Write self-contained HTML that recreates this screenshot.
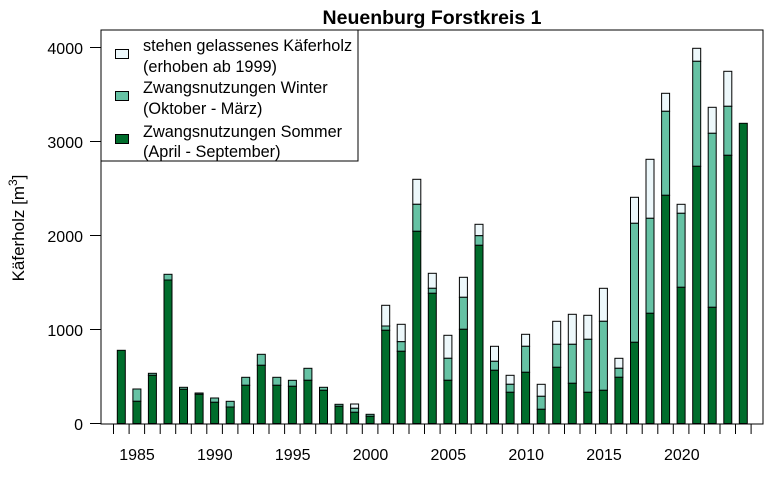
<!DOCTYPE html><html><head><style>body{margin:0;background:#fff}svg text{font-family:"Liberation Sans",Arial,sans-serif}.w{fill:#edf8fb}.l{fill:#66c2a4}.d{fill:#006d2c}</style></head><body>
<svg width="768" height="484" xmlns="http://www.w3.org/2000/svg">
<rect width="768" height="484" fill="#fff"/>
<text x="432" y="24" font-size="19.5" font-weight="bold" text-anchor="middle">Neuenburg Forstkreis 1</text>
<g stroke="#000" stroke-width="1">
<rect class="d" x="117.3" y="350.3" width="8" height="73.2"/>
<rect class="l" x="132.9" y="389" width="8" height="12.3"/><rect class="d" x="132.9" y="401.3" width="8" height="22.2"/>
<rect class="l" x="148.4" y="373.3" width="8" height="2"/><rect class="d" x="148.4" y="375.3" width="8" height="48.2"/>
<rect class="l" x="164.0" y="274.3" width="8" height="5.7"/><rect class="d" x="164.0" y="280" width="8" height="143.5"/>
<rect class="l" x="179.5" y="387.3" width="8" height="2"/><rect class="d" x="179.5" y="389.3" width="8" height="34.2"/>
<rect class="l" x="195.1" y="393" width="8" height="1.3"/><rect class="d" x="195.1" y="394.3" width="8" height="29.2"/>
<rect class="l" x="210.6" y="398" width="8" height="4.3"/><rect class="d" x="210.6" y="402.3" width="8" height="21.2"/>
<rect class="l" x="226.2" y="401.3" width="8" height="5.7"/><rect class="d" x="226.2" y="407" width="8" height="16.5"/>
<rect class="l" x="241.7" y="377.3" width="8" height="8"/><rect class="d" x="241.7" y="385.3" width="8" height="38.2"/>
<rect class="l" x="257.3" y="354.3" width="8" height="11"/><rect class="d" x="257.3" y="365.3" width="8" height="58.2"/>
<rect class="l" x="272.8" y="377.3" width="8" height="8"/><rect class="d" x="272.8" y="385.3" width="8" height="38.2"/>
<rect class="l" x="288.4" y="380.3" width="8" height="6"/><rect class="d" x="288.4" y="386.3" width="8" height="37.2"/>
<rect class="l" x="303.9" y="368.3" width="8" height="12"/><rect class="d" x="303.9" y="380.3" width="8" height="43.2"/>
<rect class="l" x="319.5" y="387.3" width="8" height="3"/><rect class="d" x="319.5" y="390.3" width="8" height="33.2"/>
<rect class="l" x="335.0" y="404.3" width="8" height="2"/><rect class="d" x="335.0" y="406.3" width="8" height="17.2"/>
<rect class="w" x="350.6" y="404" width="8" height="4.3"/><rect class="l" x="350.6" y="408.3" width="8" height="4"/><rect class="d" x="350.6" y="412.3" width="8" height="11.2"/>
<rect class="l" x="366.1" y="414.3" width="8" height="2"/><rect class="d" x="366.1" y="416.3" width="8" height="7.2"/>
<rect class="w" x="381.7" y="305.3" width="8" height="20.7"/><rect class="l" x="381.7" y="326" width="8" height="4.3"/><rect class="d" x="381.7" y="330.3" width="8" height="93.2"/>
<rect class="w" x="397.2" y="324.3" width="8" height="17.4"/><rect class="l" x="397.2" y="341.7" width="8" height="9.6"/><rect class="d" x="397.2" y="351.3" width="8" height="72.2"/>
<rect class="w" x="412.8" y="179.3" width="8" height="25"/><rect class="l" x="412.8" y="204.3" width="8" height="27"/><rect class="d" x="412.8" y="231.3" width="8" height="192.2"/>
<rect class="w" x="428.3" y="273.3" width="8" height="15"/><rect class="l" x="428.3" y="288.3" width="8" height="5"/><rect class="d" x="428.3" y="293.3" width="8" height="130.2"/>
<rect class="w" x="443.9" y="335.3" width="8" height="23"/><rect class="l" x="443.9" y="358.3" width="8" height="22"/><rect class="d" x="443.9" y="380.3" width="8" height="43.2"/>
<rect class="w" x="459.4" y="277.3" width="8" height="20"/><rect class="l" x="459.4" y="297.3" width="8" height="32"/><rect class="d" x="459.4" y="329.3" width="8" height="94.2"/>
<rect class="w" x="475.0" y="224.3" width="8" height="11.4"/><rect class="l" x="475.0" y="235.7" width="8" height="9.6"/><rect class="d" x="475.0" y="245.3" width="8" height="178.2"/>
<rect class="w" x="490.5" y="346.3" width="8" height="15"/><rect class="l" x="490.5" y="361.3" width="8" height="9"/><rect class="d" x="490.5" y="370.3" width="8" height="53.2"/>
<rect class="w" x="506.1" y="375.3" width="8" height="9"/><rect class="l" x="506.1" y="384.3" width="8" height="8"/><rect class="d" x="506.1" y="392.3" width="8" height="31.2"/>
<rect class="w" x="521.6" y="334.3" width="8" height="12"/><rect class="l" x="521.6" y="346.3" width="8" height="26"/><rect class="d" x="521.6" y="372.3" width="8" height="51.2"/>
<rect class="w" x="537.2" y="384.3" width="8" height="12"/><rect class="l" x="537.2" y="396.3" width="8" height="13"/><rect class="d" x="537.2" y="409.3" width="8" height="14.2"/>
<rect class="w" x="552.7" y="321.3" width="8" height="23"/><rect class="l" x="552.7" y="344.3" width="8" height="23"/><rect class="d" x="552.7" y="367.3" width="8" height="56.2"/>
<rect class="w" x="568.3" y="314.3" width="8" height="30"/><rect class="l" x="568.3" y="344.3" width="8" height="39"/><rect class="d" x="568.3" y="383.3" width="8" height="40.2"/>
<rect class="w" x="583.8" y="315.3" width="8" height="24"/><rect class="l" x="583.8" y="339.3" width="8" height="53"/><rect class="d" x="583.8" y="392.3" width="8" height="31.2"/>
<rect class="w" x="599.4" y="288.3" width="8" height="33"/><rect class="l" x="599.4" y="321.3" width="8" height="69"/><rect class="d" x="599.4" y="390.3" width="8" height="33.2"/>
<rect class="w" x="614.9" y="358.3" width="8" height="10"/><rect class="l" x="614.9" y="368.3" width="8" height="9"/><rect class="d" x="614.9" y="377.3" width="8" height="46.2"/>
<rect class="w" x="630.5" y="197.3" width="8" height="26"/><rect class="l" x="630.5" y="223.3" width="8" height="119"/><rect class="d" x="630.5" y="342.3" width="8" height="81.2"/>
<rect class="w" x="646.0" y="159.3" width="8" height="59"/><rect class="l" x="646.0" y="218.3" width="8" height="95"/><rect class="d" x="646.0" y="313.3" width="8" height="110.2"/>
<rect class="w" x="661.6" y="93.3" width="8" height="18"/><rect class="l" x="661.6" y="111.3" width="8" height="84"/><rect class="d" x="661.6" y="195.3" width="8" height="228.2"/>
<rect class="w" x="677.1" y="204.3" width="8" height="9"/><rect class="l" x="677.1" y="213.3" width="8" height="74"/><rect class="d" x="677.1" y="287.3" width="8" height="136.2"/>
<rect class="w" x="692.7" y="48.3" width="8" height="13"/><rect class="l" x="692.7" y="61.3" width="8" height="105"/><rect class="d" x="692.7" y="166.3" width="8" height="257.2"/>
<rect class="w" x="708.2" y="107.3" width="8" height="26"/><rect class="l" x="708.2" y="133.3" width="8" height="174"/><rect class="d" x="708.2" y="307.3" width="8" height="116.2"/>
<rect class="w" x="723.8" y="71.3" width="8" height="35"/><rect class="l" x="723.8" y="106.3" width="8" height="49"/><rect class="d" x="723.8" y="155.3" width="8" height="268.2"/>
<rect class="d" x="739.3" y="123.3" width="8" height="300.2"/>
</g>
<rect x="101" y="30" width="662" height="394" fill="none" stroke="#000"/>
<path stroke="#000" fill="none" d="M90 423.5H101M90 329.5H101M90 235.5H101M90 141.5H101M90 47.5H101"/>
<g font-size="16" text-anchor="end">
<text x="83" y="430">0</text><text x="83" y="336">1000</text><text x="83" y="242">2000</text><text x="83" y="148">3000</text><text x="83" y="54">4000</text>
</g>
<text transform="translate(24,228) rotate(-90)" font-size="17" text-anchor="middle">Käferholz [m<tspan font-size="12" dy="-7">3</tspan><tspan dy="7">]</tspan></text>
<path stroke="#000" fill="none" d="M113.5 424V434M129.1 424V434M144.6 424V434M160.2 424V434M175.7 424V434M191.3 424V434M206.8 424V434M222.4 424V434M237.9 424V434M253.5 424V434M269.0 424V434M284.6 424V434M300.1 424V434M315.7 424V434M331.2 424V434M346.8 424V434M362.3 424V434M377.9 424V434M393.4 424V434M409.0 424V434M424.5 424V434M440.1 424V434M455.6 424V434M471.2 424V434M486.7 424V434M502.3 424V434M517.8 424V434M533.4 424V434M548.9 424V434M564.5 424V434M580.0 424V434M595.6 424V434M611.1 424V434M626.7 424V434M642.2 424V434M657.8 424V434M673.3 424V434M688.9 424V434M704.4 424V434M720.0 424V434M735.5 424V434M751.1 424V434"/>
<g font-size="16" text-anchor="middle">
<text x="137" y="460">1985</text><text x="214.8" y="460">1990</text><text x="292.7" y="460">1995</text><text x="370.5" y="460">2000</text><text x="448.3" y="460">2005</text><text x="526.2" y="460">2010</text><text x="604" y="460">2015</text><text x="681.8" y="460">2020</text>
</g>
<rect x="101" y="30" width="257" height="131" fill="#fff" stroke="#000"/>
<g stroke="#000"><rect x="115.5" y="49.5" width="13" height="9" fill="#edf8fb"/><rect x="115.5" y="91.5" width="13" height="9" fill="#66c2a4"/><rect x="115.5" y="134.5" width="13" height="9" fill="#006d2c"/></g>
<g font-size="16.3"><text x="143" y="51">stehen gelassenes Käferholz</text><text x="143" y="72">(erhoben ab 1999)</text><text x="143" y="93">Zwangsnutzungen Winter</text><text x="143" y="114">(Oktober - März)</text><text x="143" y="137">Zwangsnutzungen Sommer</text><text x="143" y="157">(April - September)</text></g>
</svg></body></html>
